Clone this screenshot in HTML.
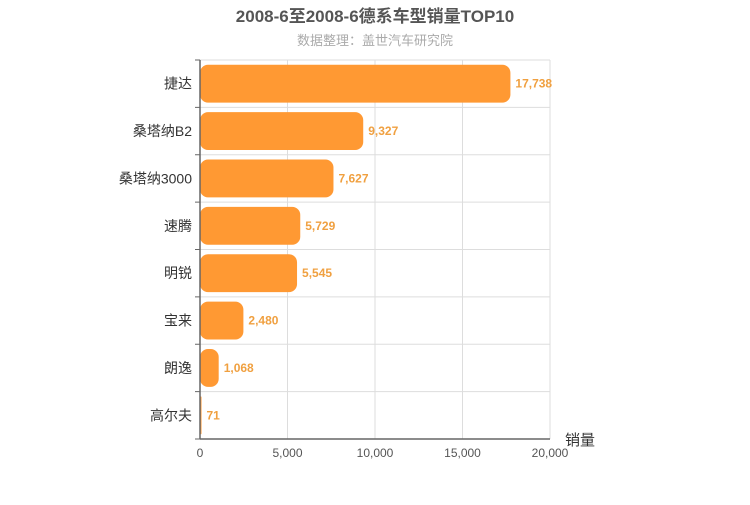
<!DOCTYPE html>
<html><head><meta charset="utf-8"><style>
body{margin:0;background:#fff;}
svg{font-family:"Liberation Sans","Noto Sans CJK SC",sans-serif;}
</style></head><body>
<svg id="c" width="750" height="500">
<text x="375" y="22" text-anchor="middle" font-size="17" font-weight="bold" fill="#555">2008-6至2008-6德系车型销量TOP10</text>
<text x="375" y="45" text-anchor="middle" font-size="13" fill="#aaa">数据整理：盖世汽车研究院</text>
<g id="g"></g>
</svg>
<script>
const categories=["捷达","桑塔纳B2","桑塔纳3000","速腾","明锐","宝来","朗逸","高尔夫"];
const values=[17738,9327,7627,5729,5545,2480,1068,71];
const xTicks=[0,5000,10000,15000,20000];
const NS="http://www.w3.org/2000/svg";
const g=document.getElementById('g');
const L=200,R=550,T=60,B=439,MAX=20000;
const x=v=>L+(R-L)*v/MAX;
const band=(B-T)/categories.length;
const y=i=>T+band*i;
function mk(t,a,txt){const e=document.createElementNS(NS,t);for(const k in a)e.setAttribute(k,a[k]);if(txt!=null)e.textContent=txt;g.appendChild(e);return e;}
xTicks.forEach((t,i)=>{
 const l=mk('line',{x1:x(t),x2:x(t),y1:T,y2:B,stroke:'#ddd'});
 
 
 const tx=mk('text',{x:x(t),y:B+18,'text-anchor':'middle','font-size':12,fill:'#555'},t.toLocaleString('en-US'));
 
 
});
for(let i=0;i<=categories.length;i++){
 const l=mk('line',{x1:L,x2:R,y1:y(i),y2:y(i),stroke:'#ddd'});
 
 
 const tk=mk('line',{x1:L-5,x2:L,y1:y(i),y2:y(i),stroke:'#666'});
 
 
}
categories.forEach((c,i)=>{
 const h=band*0.8,yy=y(i)+band*0.1,w=Math.max(x(values[i])-L,1.5);
 const r=Math.min(8,w/2);
 const b=mk('rect',{x:L,y:yy,width:w,height:h,rx:r,ry:r,fill:'#ff9933'});
 
 
 const v=mk('text',{x:L+w+5,y:y(i)+band/2+4,'font-size':12,'font-weight':'bold',fill:'#f0a040'},values[i].toLocaleString('en-US'));
 
 
 const cl=mk('text',{x:L-8,y:y(i)+band/2+5,'text-anchor':'end','font-size':14,fill:'#333'},c);
 
 
});
const ya=mk('line',{x1:L,x2:L,y1:T,y2:B,stroke:'#666','stroke-width':1.5});


const xa=mk('line',{x1:L,x2:R,y1:B,y2:B,stroke:'#666','stroke-width':1.5});


const xt=mk('text',{x:565,y:445,'font-size':15,fill:'#333'},'销量');


</script>
</body></html>
